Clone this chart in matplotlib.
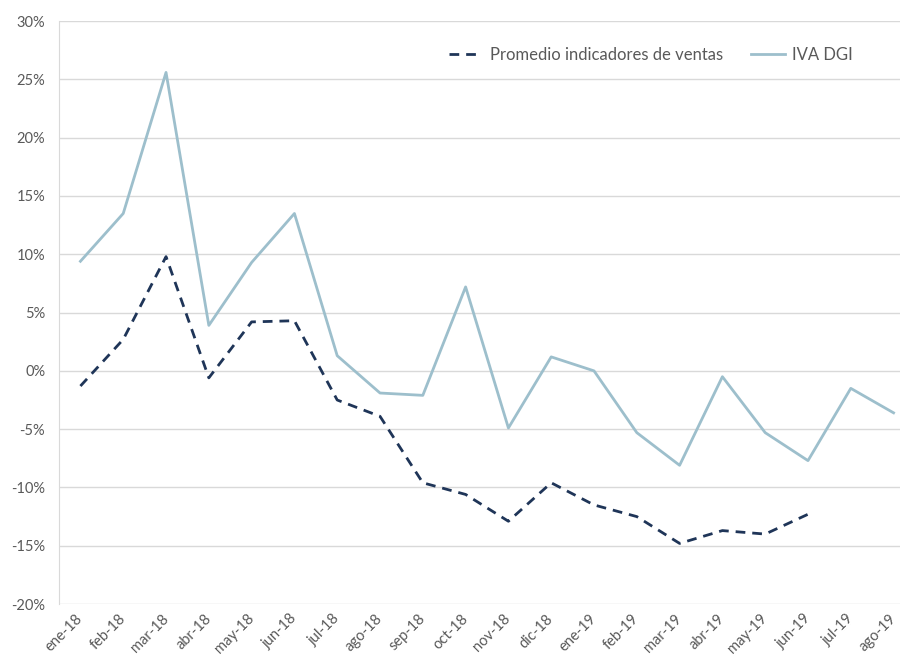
import matplotlib
matplotlib.use('Agg')
import matplotlib.pyplot as plt
from matplotlib.ticker import FuncFormatter

# Data
months = ['ene-18', 'feb-18', 'mar-18', 'abr-18', 'may-18', 'jun-18', 'jul-18',
          'ago-18', 'sep-18', 'oct-18', 'nov-18', 'dic-18', 'ene-19', 'feb-19',
          'mar-19', 'abr-19', 'may-19', 'jun-19', 'jul-19', 'ago-19']
promedio = [-1.3, 2.7, 9.8, -0.6, 4.2, 4.3, -2.5, -3.9, -9.6, -10.6, -12.9,
            -9.6, -11.5, -12.5, -14.8, -13.7, -14.0, -12.3]
iva_dgi = [9.4, 13.5, 25.6, 3.9, 9.3, 13.5, 1.3, -1.9, -2.1, 7.2, -4.9, 1.2,
           0.0, -5.3, -8.1, -0.5, -5.3, -7.7, -1.5, -3.6]

plt.rcParams['font.family'] = ['Lato', 'DejaVu Sans']
text_color = '#595959'
grid_color = '#d9d9d9'

fig = plt.figure(figsize=(9, 6.6), dpi=100)
ax = fig.add_axes([0.0656, 0.0848, 0.9344, 0.8832])

ax.plot(range(len(promedio)), promedio, color='#1f3558', lw=2.0,
        linestyle=(0, (3.5, 2.5)), label='Promedio indicadores de ventas')
ax.plot(range(len(iva_dgi)), iva_dgi, color='#9dbfcc', lw=2.0, label='IVA DGI')

ax.set_ylim(-20, 30)
ax.set_yticks(range(-20, 31, 5))
ax.yaxis.set_major_formatter(FuncFormatter(lambda v, p: f'{v:.0f}%'))
ax.set_xlim(-0.5, 19.15)
ax.set_xticks(range(len(months)))
ax.set_xticklabels(months, rotation=45, ha='right', va='center',
                   rotation_mode='anchor')

ax.grid(axis='y', color=grid_color, lw=1)
ax.set_axisbelow(True)
for s in ['top', 'right', 'bottom']:
    ax.spines[s].set_visible(False)
ax.spines['left'].set_color(grid_color)
ax.tick_params(length=0, colors=text_color, labelsize=10.5)
ax.tick_params(axis='y', pad=10)
ax.tick_params(axis='x', pad=9)

leg = fig.legend(*ax.get_legend_handles_labels(), loc='center right',
                 bbox_to_anchor=(853 / 900, 1 - 55 / 660), ncol=2, frameon=False,
                 fontsize=12, handlelength=2.0, handletextpad=0.45,
                 columnspacing=1.7, borderpad=0, borderaxespad=0)
for t in leg.get_texts():
    t.set_color(text_color)

plt.savefig('out.png', dpi=100)
